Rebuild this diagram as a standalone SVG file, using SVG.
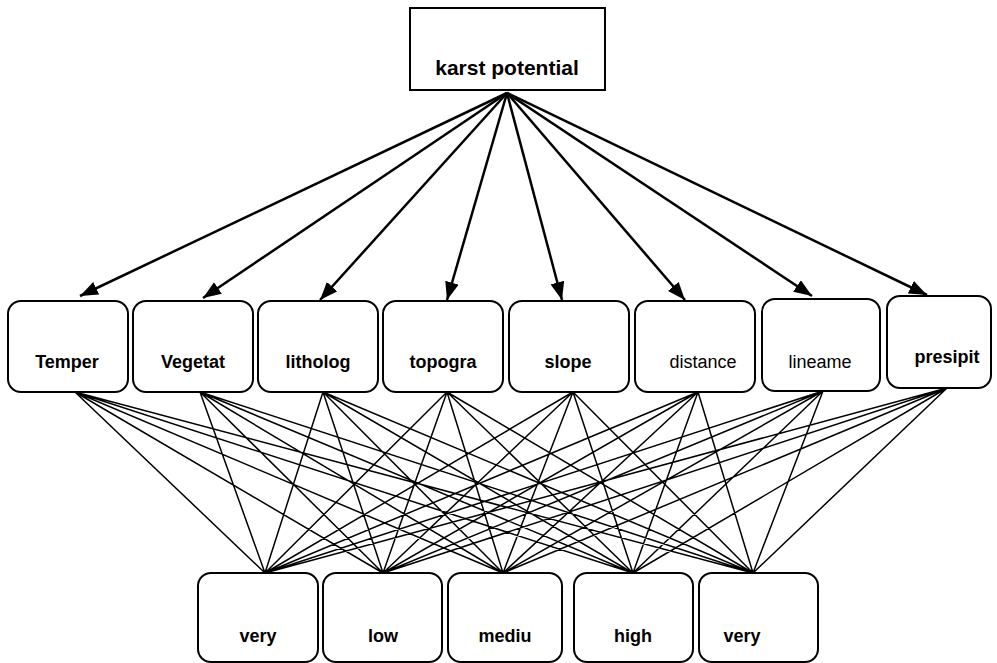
<svg xmlns="http://www.w3.org/2000/svg" width="997" height="663" viewBox="0 0 997 663">
<style>
.box{fill:#fff;stroke:#000;stroke-width:2}
.t{font-family:"Liberation Sans",Arial,sans-serif;font-size:18px;font-weight:bold;text-anchor:middle;fill:#000}
.n{font-weight:normal}
.arr{stroke:#000;stroke-width:2.5;fill:none;marker-end:url(#ah)}
.ln{stroke:#000;stroke-width:1.5;fill:none}
</style>
<defs>
<marker id="ah" markerUnits="userSpaceOnUse" markerWidth="18" markerHeight="14" viewBox="0 0 18 14" refX="18" refY="7" orient="auto">
<path d="M0,0 L18,7 L0,14 z" fill="#000"/>
</marker>
</defs>
<rect width="997" height="663" fill="#fff"/>
<g id="connectors">
<line class="arr" x1="507" y1="93" x2="80" y2="296"/>
<line class="arr" x1="507" y1="93" x2="203" y2="298"/>
<line class="arr" x1="507" y1="93" x2="320" y2="300"/>
<line class="arr" x1="507" y1="93" x2="447" y2="300"/>
<line class="arr" x1="507" y1="93" x2="562" y2="300"/>
<line class="arr" x1="507" y1="93" x2="685" y2="300"/>
<line class="arr" x1="507" y1="93" x2="812" y2="296"/>
<line class="arr" x1="507" y1="93" x2="927" y2="295"/>
<path class="ln" d="M75,392 L265,573 M75,392 L383,573 M75,392 L503,573 M75,392 L633,573 M75,392 L753,573
M200,392 L265,573 M200,392 L383,573 M200,392 L503,573 M200,392 L633,573 M200,392 L753,573
M323,392 L265,573 M323,392 L383,573 M323,392 L503,573 M323,392 L633,573 M323,392 L753,573
M447,392 L265,573 M447,392 L383,573 M447,392 L503,573 M447,392 L633,573 M447,392 L753,573
M573,392 L265,573 M573,392 L383,573 M573,392 L503,573 M573,392 L633,573 M573,392 L753,573
M698,392 L265,573 M698,392 L383,573 M698,392 L503,573 M698,392 L633,573 M698,392 L753,573
M823,391 L265,573 M823,391 L383,573 M823,391 L503,573 M823,391 L633,573 M823,391 L753,573
M947,388 L265,573 M947,388 L383,573 M947,388 L503,573 M947,388 L633,573 M947,388 L753,573"/>
</g>
<g id="karst">
<rect class="box" x="410" y="8" width="195" height="82"/>
<text class="t" x="507" y="75" style="font-size:21px">karst potential</text>
</g>
<g id="temper"><rect class="box" x="8" y="301" width="120" height="91" rx="13"/><text class="t" x="67" y="368">Temper</text></g>
<g id="vegetat"><rect class="box" x="133" y="301" width="120" height="91" rx="13"/><text class="t" x="193" y="368">Vegetat</text></g>
<g id="litholog"><rect class="box" x="258" y="301" width="120" height="91" rx="13"/><text class="t" x="318" y="368">litholog</text></g>
<g id="topogra"><rect class="box" x="383" y="301" width="120" height="91" rx="13"/><text class="t" x="443" y="368">topogra</text></g>
<g id="slope"><rect class="box" x="509" y="301" width="120" height="91" rx="13"/><text class="t" x="568" y="368">slope</text></g>
<g id="distance"><rect class="box" x="635" y="301" width="120" height="91" rx="13"/><text class="t n" x="703" y="368">distance</text></g>
<g id="lineame"><rect class="box" x="762" y="299" width="118" height="92" rx="13"/><text class="t n" x="820" y="368">lineame</text></g>
<g id="presipit"><rect class="box" x="887" y="296" width="104" height="92" rx="13"/><text class="t" x="947" y="363">presipit</text></g>
<g id="very1"><rect class="box" x="198" y="573" width="120" height="89" rx="13"/><text class="t" x="258" y="642">very</text></g>
<g id="low"><rect class="box" x="323" y="573" width="119" height="89" rx="13"/><text class="t" x="383" y="642">low</text></g>
<g id="mediu"><rect class="box" x="448" y="573" width="114" height="89" rx="13"/><text class="t" x="505" y="642">mediu</text></g>
<g id="high"><rect class="box" x="574" y="573" width="119" height="89" rx="13"/><text class="t" x="633" y="642">high</text></g>
<g id="very2"><rect class="box" x="699" y="573" width="119" height="89" rx="13"/><text class="t" x="742" y="642">very</text></g>
</svg>
